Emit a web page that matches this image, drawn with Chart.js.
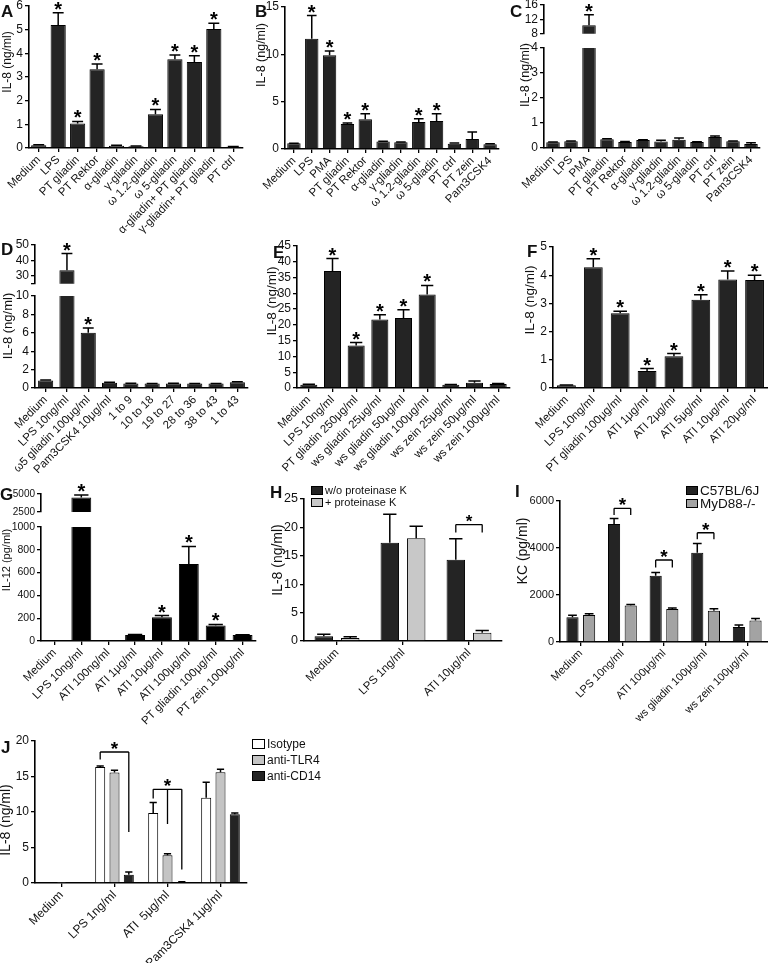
<!DOCTYPE html>
<html>
<head>
<meta charset="utf-8">
<script src="https://cdn.jsdelivr.net/npm/chart.js@4.4.1/dist/chart.umd.min.js"></script>
<style>
  body { margin: 0; width: 768px; height: 963px; background: #fff; position: relative; overflow: hidden;
         font-family: 'Liberation Sans', Arial, sans-serif; color: #111; }
  canvas { position: absolute; }
  .letter { position: absolute; font-weight: bold; font-size: 17px; line-height: 17px; }
  .ytitle { position: absolute; transform: translate(-50%, -50%) rotate(-90deg); white-space: nowrap; line-height: 1; }
  .leg { position: absolute; display: flex; align-items: center; line-height: 1; white-space: nowrap; }
  .sw { display: inline-block; border: 1.2px solid #000; margin-right: 2px; box-sizing: border-box; }
</style>
</head>
<body>
<script>
// ---- data ----
const aLabels = ['Medium', 'LPS', 'PT gliadin', 'PT Rektor', 'α-gliadin', 'γ-gliadin', 'ω 1.2-gliadin',
  'ω 5-gliadin', 'α-gliadin+ PT gliadin', 'γ-gliadin+ PT gliadin', 'PT ctrl'];
const aValues = [0.12, 5.2, 1.03, 3.33, 0.1, 0.07, 1.43, 3.75, 3.63, 5.03, 0.05];
const aErrors = [0.02, 0.52, 0.09, 0.22, 0.02, 0.01, 0.2, 0.18, 0.27, 0.24, 0.01];
const aStars = [0, 1, 1, 1, 0, 0, 1, 1, 1, 1, 0];

const bcLabels = ['Medium', 'LPS', 'PMA', 'PT gliadin', 'PT Rektor', 'α-gliadin', 'γ-gliadin', 'ω 1.2-gliadin',
  'ω 5-gliadin', 'PT ctrl', 'PT zein', 'Pam3CSK4'];
const bValues = [0.6, 11.65, 9.9, 2.63, 3.13, 0.8, 0.7, 2.85, 2.95, 0.55, 1.05, 0.5];
const bErrors = [0.02, 2.45, 0.46, 0.12, 0.6, 0.02, 0.03, 0.35, 0.78, 0.08, 0.74, 0.06];
const bStars = [0, 1, 1, 1, 1, 0, 0, 1, 1, 0, 0, 0];

const cValues = [0.23, 0.27, 10.4, 0.35, 0.24, 0.32, 0.26, 0.33, 0.24, 0.44, 0.27, 0.16];
const cErrors = [0.01, 0.01, 2.9, 0.02, 0.02, 0.01, 0.05, 0.07, 0.01, 0.04, 0.01, 0.05];
const cStars = [0, 0, 1, 0, 0, 0, 0, 0, 0, 0, 0, 0];
const cTopTicks = [8, 12, 16];

const dLabels = ['Medium', 'LPS 10ng/ml', 'ω5 gliadin 100μg/ml', 'Pam3CSK4 10μg/ml', '1 to 9', '10 to 18',
  '19 to 27', '28 to 36', '38 to 43', '1 to 43'];
const dValues = [0.82, 33.7, 6.0, 0.58, 0.5, 0.48, 0.5, 0.48, 0.48, 0.62];
const dErrors = [0.05, 10.8, 0.52, 0.04, 0.02, 0.02, 0.02, 0.02, 0.02, 0.06];
const dStars = [0, 1, 1, 0, 0, 0, 0, 0, 0, 0];
const dTopTicks = [25, 30, 40, 50];

const eLabels = ['Medium', 'LPS 10ng/ml', 'PT gliadin 250μg/ml', 'ws gliadin 25μg/ml', 'ws gliadin 50μg/ml',
  'ws gliadin 100μg/ml', 'ws zein 25μg/ml', 'ws zein 50μg/ml', 'ws zein 100μg/ml'];
const eValues = [1.05, 37.1, 13.5, 21.7, 22.2, 29.6, 1.05, 1.7, 1.3];
const eErrors = [0.1, 3.9, 0.9, 1.5, 2.6, 2.9, 0.05, 0.5, 0.1];
const eStars = [0, 1, 1, 1, 1, 1, 0, 0, 0];

const fLabels = ['Medium', 'LPS 10ng/ml', 'PT gliadin 100μg/ml', 'ATI 1μg/ml', 'ATI 2μg/ml', 'ATI 5μg/ml',
  'ATI 10μg/ml', 'ATI 20μg/ml'];
const fValues = [0.1, 4.28, 2.65, 0.6, 1.13, 3.13, 3.85, 3.83];
const fErrors = [0.01, 0.3, 0.07, 0.09, 0.09, 0.18, 0.3, 0.17];
const fStars = [0, 1, 1, 1, 1, 1, 1, 1];

const gLabels = ['Medium', 'LPS 10ng/ml', 'ATI 100ng/ml', 'ATI 1μg/ml', 'ATI 10μg/ml', 'ATI 100μg/ml',
  'PT gliadin 100μg/ml', 'PT zein 100μg/ml'];
const gValues = [4, 4520, 3, 52, 208, 675, 135, 52];
const gErrors = [0, 340, 0, 4, 15, 155, 10, 3];
const gStars = [0, 1, 0, 0, 1, 1, 1, 0];
const gTopTicks = [2500, 5000];

const hLabels = ['Medium', 'LPS 1ng/ml', 'ATI 10μg/ml'];
const hSeries = ['w/o proteinase K', '+ proteinase K'];
const hWithout = [0.85, 17.3, 14.3];
const hWithoutErr = [0.35, 5.0, 3.7];
const hWith = [0.55, 18.1, 1.45];
const hWithErr = [0.2, 2.1, 0.4];
const hBracketGroups = [2];
const hBracketTops = [20.5];
const hBracketLegs = [[19.1, 19.1]];

const iLabels = ['Medium', 'LPS 10ng/ml', 'ATI 100μg/ml', 'ws gliadin 100μg/ml', 'ws zein 100μg/ml'];
const iSeries = ['C57BL/6J', 'MyD88-/-'];
const iWild = [1050, 5020, 2815, 3800, 640];
const iWildErr = [85, 240, 140, 395, 85];
const iKo = [1150, 1555, 1400, 1330, 920];
const iKoErr = [55, 45, 45, 85, 85];
const iBracketGroups = [1, 2, 3];
const iBracketTops = [5690, 3490, 4650];
const iBracketLegs = [[5400, 5400], [3170, 3170], [4370, 4370]];

const jLabels = ['Medium', 'LPS 1ng/ml', 'ATI  5μg/ml', 'Pam3CSK4 1μg/ml'];
const jSeries = ['Isotype', 'anti-TLR4', 'anti-CD14'];
const jIsotype = [0.1, 16.35, 9.85, 12.0];
const jIsotypeErr = [0, 0.12, 1.5, 2.2];
const jTlr4 = [0.05, 15.55, 3.9, 15.6];
const jTlr4Err = [0, 0.32, 0.23, 0.42];
const jCd14 = [0, 1.15, 0.15, 9.7];
const jCd14Err = [0, 0.4, 0.03, 0.15];
const jBracketGroups = [1, 2];
const jBracketTops = [18.45, 13.2];
const jBracketLegs = [[17.4, null, 7.2], [11.9, 8.3, 1.9]];

// ---- drawing ----
const FONT = "'Liberation Sans', Arial, sans-serif";
const DARK = '#242424';
Chart.defaults.font.family = FONT;
Chart.defaults.color = '#111';

function drawStar(ctx, x, yBottom, size) {
  ctx.font = 'bold ' + size + 'px ' + FONT;
  ctx.textAlign = 'center';
  ctx.textBaseline = 'alphabetic';
  ctx.fillStyle = '#000';
  const m = ctx.measureText('*');
  ctx.fillText('*', x, yBottom - m.actualBoundingBoxDescent);
}

// error bars (upper only) and stars, only where the bar top is inside this segment
const errorPlugin = {
  id: 'errs',
  afterDatasetsDraw(chart) {
    const ctx = chart.ctx, ys = chart.scales.y;
    chart.data.datasets.forEach((ds, d) => {
      chart.getDatasetMeta(d).data.forEach((bar, i) => {
        const v = ds.data[i];
        if (v < ys.min || v > ys.max) return;
        const err = ds.errors ? ds.errors[i] : 0;
        const top = ys.getPixelForValue(v + err);
        const half = bar.width * 0.36;
        ctx.save();
        ctx.strokeStyle = '#000';
        ctx.lineWidth = 1.5;
        if (err > 0) {
          ctx.beginPath();
          ctx.moveTo(bar.x, ys.getPixelForValue(v));
          ctx.lineTo(bar.x, top);
          ctx.moveTo(bar.x - half, top);
          ctx.lineTo(bar.x + half, top);
          ctx.stroke();
        }
        if (ds.stars && ds.stars[i]) drawStar(ctx, bar.x, top - 3, 20);
        ctx.restore();
      });
    });
  }
};

function bracketPlugin(groups, tops, legs, starSize) {
  return {
    id: 'brackets',
    afterDatasetsDraw(chart) {
      if (!groups) return;
      const ctx = chart.ctx, ys = chart.scales.y;
      ctx.save();
      ctx.strokeStyle = '#000';
      ctx.lineWidth = 1.3;
      groups.forEach((g, k) => {
        const yTop = ys.getPixelForValue(tops[k]);
        const xs = [];
        ctx.beginPath();
        legs[k].forEach((end, d) => {
          if (end === null) return;
          const x = chart.getDatasetMeta(d).data[g].x;
          xs.push(x);
          ctx.moveTo(x, yTop);
          ctx.lineTo(x, ys.getPixelForValue(end));
        });
        ctx.moveTo(Math.min(...xs), yTop);
        ctx.lineTo(Math.max(...xs), yTop);
        ctx.stroke();
        drawStar(ctx, (Math.min(...xs) + Math.max(...xs)) / 2, yTop - 3, starSize);
      });
      ctx.restore();
    }
  };
}

// p.x0/x1 = plot area left/right, p.yTop/p.y0 = pixel of max/min value (page coords)
function makeChart(p) {
  const W = 44, padTop = 10, padRight = 6;
  const showX = p.showX !== false;
  const xh = showX ? 120 : 0;
  const padBottom = showX ? 0 : 8;
  const left = p.x0 - W, top = p.yTop - padTop;
  const cv = document.createElement('canvas');
  cv.width = p.x1 + padRight - left;
  cv.height = p.y0 - top + xh + padBottom;
  cv.style.left = left + 'px';
  cv.style.top = top + 'px';
  document.body.appendChild(cv);

  const yScale = {
    min: p.min, max: p.max,
    afterFit: s => { s.width = W; },
    grid: { drawOnChartArea: false, tickLength: 4, color: '#000', lineWidth: 1.3 },
    border: { color: '#000', width: 1.6 },
    ticks: {
      stepSize: p.step, padding: 2, color: '#111', font: { size: p.yFont || 12 }, autoSkip: false,
      callback: (v, i) => (p.hideMin && i === 0 ? '' : String(v))
    }
  };
  if (p.ticks) yScale.afterBuildTicks = s => { s.ticks = p.ticks.map(v => ({ value: v })); };

  return new Chart(cv, {
    type: 'bar',
    data: {
      labels: p.labels,
      datasets: p.datasets.map(ds => Object.assign({
        borderColor: '#000', borderWidth: 1, clip: 0,
        barPercentage: p.barPct, categoryPercentage: p.catPct || 1
      }, ds))
    },
    options: {
      responsive: false,
      animation: false,
      events: [],
      layout: { padding: { top: padTop, right: padRight, bottom: padBottom, left: 0 } },
      plugins: { legend: { display: false }, tooltip: { enabled: false } },
      scales: {
        x: {
          display: showX,
          afterFit: s => { s.height = xh; },
          grid: { offset: false, drawOnChartArea: false, tickLength: 4, color: '#000', lineWidth: 1.3 },
          border: { color: '#000', width: 1.6 },
          ticks: { autoSkip: false, maxRotation: 45, minRotation: 45, padding: 1, color: '#111',
                   font: { size: p.xFont || 11.5 } }
        },
        y: yScale
      }
    },
    plugins: [errorPlugin, bracketPlugin(p.bGroups, p.bTops, p.bLegs, p.starSize || 18)]
  });
}

function addDiv(cls, text, x, y, size) {
  const el = document.createElement('div');
  el.className = cls;
  el.textContent = text;
  el.style.left = x + 'px';
  el.style.top = y + 'px';
  if (size) el.style.fontSize = size + 'px';
  document.body.appendChild(el);
  return el;
}

function addLegend(chart, x, y, rowH, size, swW, swH) {
  chart.data.datasets.forEach((ds, d) => {
    const row = addDiv('leg', '', x, y + d * rowH, size);
    const sw = document.createElement('span');
    sw.className = 'sw';
    sw.style.width = swW + 'px';
    sw.style.height = swH + 'px';
    sw.style.background = ds.backgroundColor;
    row.appendChild(sw);
    row.appendChild(document.createTextNode(ds.label));
  });
}

const single = (values, errors, stars, color) => [{ data: values, errors: errors, stars: stars, backgroundColor: color }];

// A
makeChart({ x0: 29, x1: 243, yTop: 6, y0: 148, min: 0, max: 6, step: 1, labels: aLabels,
  datasets: single(aValues, aErrors, aStars, DARK), barPct: 0.78 });
// B
makeChart({ x0: 285, x1: 499, yTop: 7, y0: 149, min: 0, max: 15, step: 5, labels: bcLabels,
  datasets: single(bValues, bErrors, bStars, DARK), barPct: 0.75 });
// C (broken axis)
makeChart({ x0: 544, x1: 760, yTop: 5, y0: 35, min: 8, max: 16, ticks: cTopTicks, labels: bcLabels, showX: false,
  datasets: single(cValues, cErrors, cStars, DARK), barPct: 0.75 });
makeChart({ x0: 544, x1: 760, yTop: 48, y0: 148, min: 0, max: 4, step: 1, labels: bcLabels,
  datasets: single(cValues, cErrors, cStars, DARK), barPct: 0.75 });
// D (broken axis)
makeChart({ x0: 35, x1: 248, yTop: 245, y0: 285, min: 25, max: 50, ticks: dTopTicks, hideMin: true, labels: dLabels,
  showX: false, datasets: single(dValues, dErrors, dStars, DARK), barPct: 0.71 });
makeChart({ x0: 35, x1: 248, yTop: 296, y0: 388, min: 0, max: 10, step: 2, labels: dLabels,
  datasets: single(dValues, dErrors, dStars, DARK), barPct: 0.71 });
// E
makeChart({ x0: 297, x1: 510, yTop: 246, y0: 388, min: 0, max: 45, step: 5, labels: eLabels,
  datasets: single(eValues, eErrors, eStars, DARK), barPct: 0.72 });
// F
makeChart({ x0: 553, x1: 768, yTop: 247, y0: 388, min: 0, max: 5, step: 1, labels: fLabels,
  datasets: single(fValues, fErrors, fStars, DARK), barPct: 0.7 });
// G (broken axis)
makeChart({ x0: 41, x1: 256, yTop: 494, y0: 512, min: 2500, max: 5000, ticks: gTopTicks, labels: gLabels, showX: false,
  yFont: 10, datasets: single(gValues, gErrors, gStars, '#000'), barPct: 0.74 });
makeChart({ x0: 41, x1: 256, yTop: 527, y0: 641, min: 0, max: 1000, step: 200, labels: gLabels,
  yFont: 10.5, datasets: single(gValues, gErrors, gStars, '#000'), barPct: 0.74 });
// H
const hChart = makeChart({ x0: 304, x1: 502, yTop: 499, y0: 641, min: 0, max: 25, step: 5, labels: hLabels,
  datasets: [
    { label: hSeries[0], data: hWithout, errors: hWithoutErr, backgroundColor: DARK },
    { label: hSeries[1], data: hWith, errors: hWithErr, backgroundColor: '#c8c8c8' }
  ], yFont: 12.5, barPct: 0.7, catPct: 0.8, bGroups: hBracketGroups, bTops: hBracketTops, bLegs: hBracketLegs, starSize: 17 });
// I
const iChart = makeChart({ x0: 560, x1: 768, yTop: 501, y0: 642, min: 0, max: 6000, step: 2000, labels: iLabels,
  datasets: [
    { label: iSeries[0], data: iWild, errors: iWildErr, backgroundColor: DARK },
    { label: iSeries[1], data: iKo, errors: iKoErr, backgroundColor: '#a3a3a3' }
  ], yFont: 11, barPct: 0.73, catPct: 0.8, xFont: 11, bGroups: iBracketGroups, bTops: iBracketTops, bLegs: iBracketLegs, starSize: 19 });
// J
const jChart = makeChart({ x0: 35, x1: 247, yTop: 741, y0: 883, min: 0, max: 20, step: 5, labels: jLabels,
  datasets: [
    { label: jSeries[0], data: jIsotype, errors: jIsotypeErr, backgroundColor: '#ffffff' },
    { label: jSeries[1], data: jTlr4, errors: jTlr4Err, backgroundColor: '#c4c4c4' },
    { label: jSeries[2], data: jCd14, errors: jCd14Err, backgroundColor: DARK }
  ], barPct: 0.7, catPct: 0.81, xFont: 12, bGroups: jBracketGroups, bTops: jBracketTops, bLegs: jBracketLegs, starSize: 19 });

// legends
addLegend(hChart, 311, 485, 12, 11, 12, 9);
addLegend(iChart, 686, 484, 12.5, 13.5, 12, 9);
addLegend(jChart, 252, 738, 16, 12, 13, 10);

// panel letters
[['A', 1, 3], ['B', 255, 3], ['C', 510, 3], ['D', 1, 241], ['E', 273, 244], ['F', 527, 243],
 ['G', 0, 486], ['H', 270, 484], ['I', 515, 483], ['J', 1, 739]].forEach(t => addDiv('letter', t[0], t[1], t[2]));

// axis titles
[['IL-8 (ng/ml)', 7, 62, 12], ['IL-8 (ng/ml)', 261, 55, 12.5], ['IL-8 (ng/ml)', 525, 75, 12.5],
 ['IL-8 (ng/ml)', 7, 326, 13], ['IL-8 (ng/ml)', 272, 301, 13.5], ['IL-8 (ng/ml)', 530, 300, 13.5],
 ['IL-12 (pg/ml)', 6, 560, 11], ['IL-8 (ng/ml)', 277, 560, 14], ['KC (pg/ml)', 522, 551, 14],
 ['IL-8 (ng/ml)', 5, 820, 14]].forEach(t => addDiv('ytitle', t[0], t[1], t[2], t[3]));
</script>
</body>
</html>
